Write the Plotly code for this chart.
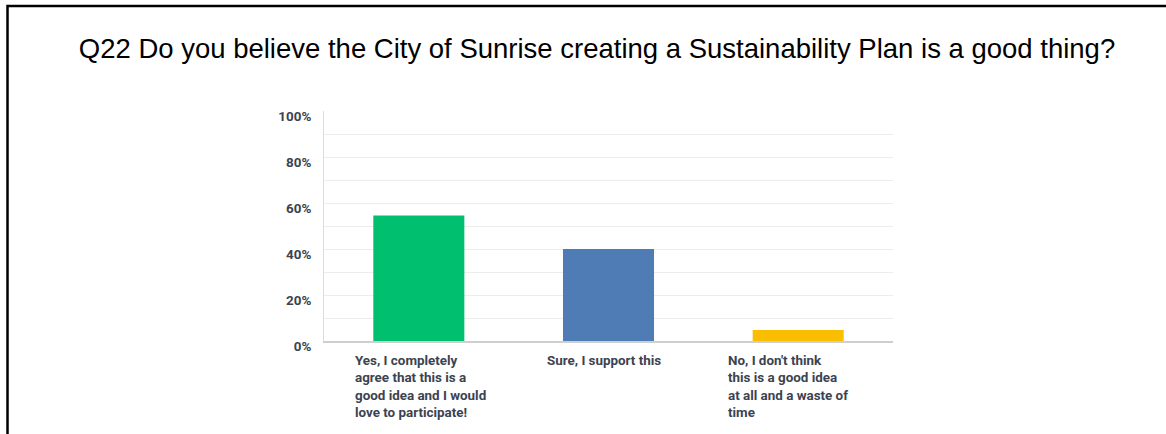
import plotly.graph_objects as go

# ---- data ----
title_text = "Q22 Do you believe the City of Sunrise creating a Sustainability Plan is a good thing?"
categories = ["yes", "sure", "no"]
category_labels = [
    "Yes, I completely<br>agree that this is a<br>good idea and I would<br>love to participate!",
    "Sure, I support this",
    "No, I don't think<br>this is a good idea<br>at all and a waste of<br>time",
]
values = [54.6, 40.0, 4.8]
bar_colors = ["#00bf6f", "#507cb6", "#f9be00"]
y_tick_vals = [0, 20, 40, 60, 80, 100]
y_tick_text = ["0%", "20%", "40%", "60%", "80%", "100%"]
grid_vals = [10, 20, 30, 40, 50, 60, 70, 80, 90]

# ---- layout constants (pixels) ----
W, H = 1166, 434
L, R, T, B = 324, 273, 111, 93
label_xshift = [-65.5, -63.5, -72.5]
text_color = "#3b4350"

fig = go.Figure()
fig.add_trace(go.Bar(
    x=categories, y=values, marker=dict(color=bar_colors, line=dict(width=0)),
    width=0.48, hoverinfo="skip", showlegend=False,
))
# helper trace for the grid-only overlay axis
fig.add_trace(go.Scatter(x=[], y=[], yaxis="y2", showlegend=False, hoverinfo="skip"))

for cat, lab, xs in zip(categories, category_labels, label_xshift):
    fig.add_annotation(
        x=cat, xref="x", y=0, yref="paper", text="<b>" + lab + "</b>",
        showarrow=False, xanchor="left", yanchor="top", align="left",
        xshift=xs, yshift=-10,
        font=dict(family="Roboto", size=13.4, color=text_color),
    )

# frame around the whole chart (only top and left edges are inside the image)
pw, ph = W - L - R, H - T - B
def px_to_paper_x(px):
    return (px - L) / pw
def px_to_paper_y(py):
    return (H - B - py) / ph
fig.add_shape(
    type="rect", xref="paper", yref="paper", layer="above",
    x0=px_to_paper_x(7.5), x1=px_to_paper_x(W + 20),
    y0=px_to_paper_y(H + 20), y1=px_to_paper_y(6),
    line=dict(color="#000000", width=2.5), fillcolor="rgba(0,0,0,0)",
)

fig.update_layout(
    width=W, height=H,
    margin=dict(l=L, r=R, t=T, b=B, pad=0),
    paper_bgcolor="white", plot_bgcolor="white",
    title=dict(
        text=title_text, x=597 / W, xanchor="center", xref="container",
        y=1 - 48.5 / H, yanchor="middle", yref="container",
        font=dict(family="Liberation Sans, Arial", size=27.5, color="#000000"),
    ),
    xaxis=dict(
        categoryorder="array", categoryarray=categories,
        showticklabels=False, showgrid=False, zeroline=False,
        showline=True, linecolor="#cfcfcf", linewidth=1.5,
        fixedrange=True,
    ),
    yaxis=dict(
        range=[0, 100], tickvals=y_tick_vals, ticktext=y_tick_text,
        showgrid=False, zeroline=False,
        showline=True, linecolor="#dcdcdc", linewidth=1,
        ticks="", ticklabelstandoff=9, ticklabelshift=5,
        tickfont=dict(family="Roboto", size=13.4, color=text_color, weight="bold"),
        fixedrange=True,
    ),
    yaxis2=dict(
        overlaying="y", range=[0, 100], tickvals=grid_vals,
        showticklabels=False, showgrid=True, gridcolor="#ededed", gridwidth=1,
        zeroline=False, showline=False, ticks="", fixedrange=True,
    ),
    bargap=0.52,
)

fig.write_html(
    "out.html",
    config={"displayModeBar": False, "staticPlot": True},
    post_script="document.body.style.margin='0';document.body.style.overflow='hidden';",
)
